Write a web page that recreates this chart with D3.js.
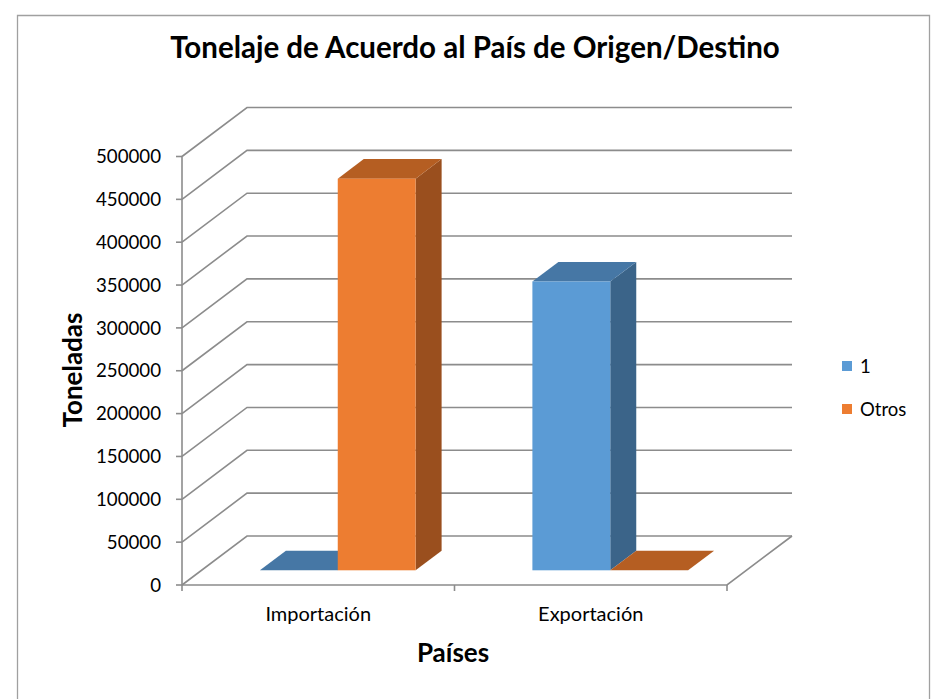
<!DOCTYPE html>
<html>
<head>
<meta charset="utf-8">
<script src="https://cdn.jsdelivr.net/npm/d3@7"></script>
<style>
  body { margin: 0; background: #fff; }
  svg { display: block; font-family: Lato, 'Open Sans', sans-serif; }
</style>
</head>
<body>
<svg id="chart" width="931" height="699"></svg>
<script>
// chart data
const categories = ['Importación', 'Exportación'];
const seriesNames = ['1', 'Otros'];
const seriesOne = [0, 337000];
const seriesOtros = [457000, 0];
const yTickValues = [0, 50000, 100000, 150000, 200000, 250000, 300000, 350000, 400000, 450000, 500000];

const titleText = 'Tonelaje de Acuerdo al País de Origen/Destino';
const yTitle = 'Toneladas';
const xTitle = 'Países';

// colours: front, top, side
const palette = {
  '1': { front: '#5b9bd5', top: '#4677a5', side: '#3b6489' },
  'Otros': { front: '#ed7d31', top: '#b55e22', side: '#9a4f1e' },
};

// 3d depth of the floor (offset of the back wall)
const DEPTH_X = 65;
const DEPTH_Y = -49;

const svg = d3.select('#chart');

// outer chart border
svg.append('path')
  .attr('d', 'M17.5,699 V15.5 H929.5 V699')
  .attr('fill', 'none')
  .attr('stroke', '#a0a0a0')
  .attr('stroke-width', 1.3);

const x = d3.scaleBand().domain(categories).range([182, 727]);
const xs = d3.scaleBand().domain(seriesNames)
  .range([0, x.bandwidth()])
  .paddingInner(0)
  .paddingOuter(0.75);
const y = d3.scaleLinear().domain([0, 500000]).range([585, 156.5]);

const g = svg.append('g');

// walls / gridlines
const grid = g.append('g')
  .attr('fill', 'none')
  .attr('stroke', '#8c8c8c')
  .attr('stroke-width', 1.6);

grid.selectAll('path.grid')
  .data(yTickValues)
  .join('path')
  .attr('class', 'grid')
  .attr('d', (t) => `M182,${y(t)} l${DEPTH_X},${DEPTH_Y} H${727 + DEPTH_X}`);

// floor front and right edges
grid.append('path')
  .attr('d', `M182,${y(0)} H727 l${DEPTH_X},${DEPTH_Y}`);

// value axis line and ticks
grid.append('path')
  .attr('d', `M182,${y(0)} V${y(500000)}`);
grid.selectAll('path.ytick')
  .data(yTickValues)
  .join('path')
  .attr('class', 'ytick')
  .attr('d', (t) => `M176,${y(t)} H182`);

// category ticks
const catEdges = [182, ...categories.map((c) => x(c) + x.bandwidth())];
grid.selectAll('path.xtick')
  .data(catEdges)
  .join('path')
  .attr('class', 'xtick')
  .attr('d', (e) => `M${e},${y(0)} v6`);

// bars
const bars = [];
categories.forEach((c, i) => {
  bars.push({ cat: c, series: '1', value: seriesOne[i] });
  bars.push({ cat: c, series: 'Otros', value: seriesOtros[i] });
});

// bars sit in the middle 40% of the depth (gap depth 150%)
const fx = 0.3 * DEPTH_X;
const fy = 0.3 * DEPTH_Y;
const bx = 0.7 * DEPTH_X;
const by = 0.7 * DEPTH_Y;

const barG = g.append('g');
bars.forEach((d) => {
  const x0 = x(d.cat) + xs(d.series);
  const x1 = x0 + xs.bandwidth();
  const yb = y(0);
  const yt = y(d.value);
  const col = palette[d.series];
  const b = barG.append('g');
  if (d.value > 0) {
    b.append('path')
      .attr('d', `M${x1 + fx},${yt + fy} L${x1 + bx},${yt + by} L${x1 + bx},${yb + by} L${x1 + fx},${yb + fy} Z`)
      .attr('fill', col.side);
  }
  b.append('path')
    .attr('d', `M${x0 + fx},${yt + fy} L${x1 + fx},${yt + fy} L${x1 + bx},${yt + by} L${x0 + bx},${yt + by} Z`)
    .attr('fill', col.top);
  if (d.value > 0) {
    b.append('rect')
      .attr('x', x0 + fx)
      .attr('y', yt + fy)
      .attr('width', x1 - x0)
      .attr('height', yb - yt)
      .attr('fill', col.front);
  }
});

// value tick labels
g.append('g')
  .selectAll('text')
  .data(yTickValues)
  .join('text')
  .attr('x', 161)
  .attr('y', (t) => y(t))
  .attr('dy', '0.36em')
  .attr('text-anchor', 'end')
  .attr('font-size', 18.7)
  .attr('fill', '#000')
  .text((t) => t);

// category labels
g.append('g')
  .selectAll('text')
  .data(categories)
  .join('text')
  .attr('x', (c) => x(c) + x.bandwidth() / 2)
  .attr('y', 621)
  .attr('text-anchor', 'middle')
  .attr('font-size', 20)
  .text((c) => c);

// titles
svg.append('text')
  .attr('x', 475)
  .attr('y', 58)
  .attr('text-anchor', 'middle')
  .attr('font-size', 29.5)
  .attr('font-weight', 'bold')
  .text(titleText);

svg.append('text')
  .attr('transform', 'translate(82,370) rotate(-90)')
  .attr('text-anchor', 'middle')
  .attr('font-size', 26)
  .attr('font-weight', 'bold')
  .text(yTitle);

svg.append('text')
  .attr('x', 453)
  .attr('y', 662)
  .attr('text-anchor', 'middle')
  .attr('font-size', 26)
  .attr('font-weight', 'bold')
  .text(xTitle);

// legend
const legend = svg.append('g')
  .selectAll('g')
  .data(seriesNames)
  .join('g')
  .attr('transform', (s, i) => `translate(842,${361 + i * 43})`);
legend.append('rect')
  .attr('width', 10)
  .attr('height', 10)
  .attr('fill', (s) => palette[s].front);
legend.append('text')
  .attr('x', 18)
  .attr('y', 5)
  .attr('dy', '0.36em')
  .attr('font-size', 18.5)
  .text((s) => s);
</script>
</body>
</html>
